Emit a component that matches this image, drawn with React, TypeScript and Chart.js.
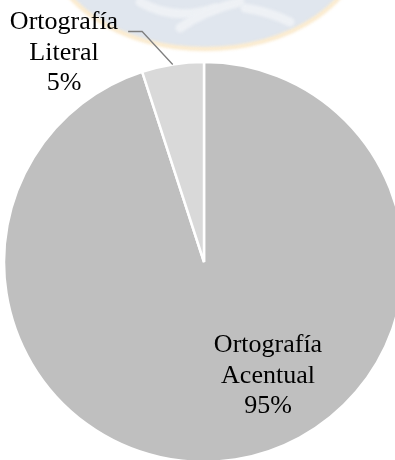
import React, { useEffect, useRef } from "react";
import { Chart, registerables } from "chart.js";

Chart.register(...registerables);

const categories: string[] = ["Ortografía Acentual", "Ortografía Literal"];
const labelLines: string[][] = [["Ortografía", "Acentual"], ["Ortografía", "Literal"]];
const values: number[] = [95, 5];
const colors: string[] = ["#BFBFBF", "#D9D9D9"];

const FONT = '26px "Liberation Serif", "Times New Roman", serif';

const watermarkPlugin = {
  id: "watermark",
  beforeDraw(chart: any) {
    const ctx = chart.ctx;
    ctx.save();
    ctx.filter = "blur(1.5px)";
    ctx.beginPath();
    ctx.ellipse(205, -60, 158, 109, 0, 0, Math.PI * 2);
    ctx.fillStyle = "#E0E6EE";
    ctx.fill();
    ctx.lineWidth = 4;
    ctx.strokeStyle = "#FDEBCB";
    ctx.stroke();
    ctx.lineCap = "round";
    ctx.strokeStyle = "#EEF1F5";
    ctx.lineWidth = 9;
    ctx.beginPath();
    ctx.moveTo(140, 2);
    ctx.quadraticCurveTo(175, 22, 215, 8);
    ctx.stroke();
    ctx.beginPath();
    ctx.moveTo(180, 28);
    ctx.quadraticCurveTo(205, 10, 240, 2);
    ctx.stroke();
    ctx.beginPath();
    ctx.moveTo(245, 8);
    ctx.quadraticCurveTo(270, 12, 290, 22);
    ctx.stroke();
    ctx.restore();
  },
};

const labelPlugin = {
  id: "sliceLabels",
  afterDraw(chart: any) {
    const ctx = chart.ctx;
    const meta = chart.getDatasetMeta(0);
    const total = values.reduce((a, b) => a + b, 0);
    ctx.save();
    ctx.font = FONT;
    ctx.fillStyle = "#000000";
    ctx.textAlign = "center";
    ctx.textBaseline = "alphabetic";
    meta.data.forEach((arc: any, i: number) => {
      const { x, y, outerRadius, startAngle, endAngle } = arc.getProps(
        ["x", "y", "outerRadius", "startAngle", "endAngle"],
        true
      );
      const pct = Math.round((values[i] / total) * 100) + "%";
      const lines = [...labelLines[i], pct];
      if (i === 0) {
        const cx = x + 64;
        const by = y + 90;
        lines.forEach((t, k) => ctx.fillText(t, cx, by + k * 30.5));
      } else {
        const cx = x - 140;
        const by = y - 233;
        lines.forEach((t, k) => ctx.fillText(t, cx, by + k * 30.5));
        const mid = (startAngle + endAngle) / 2;
        const ex = x + Math.cos(mid) * outerRadius;
        const ey = y + Math.sin(mid) * outerRadius;
        const w = ctx.measureText(lines[0]).width;
        const hx = cx + w / 2 + 10;
        ctx.beginPath();
        ctx.strokeStyle = "#7F7F7F";
        ctx.lineWidth = 1.3;
        ctx.moveTo(hx, by + 2.5);
        ctx.lineTo(hx + 14, by + 2.5);
        ctx.lineTo(ex, ey);
        ctx.stroke();
      }
    });
    ctx.restore();
  },
};

export default function App() {
  const ref = useRef<HTMLCanvasElement | null>(null);
  useEffect(() => {
    if (!ref.current) return;
    const chart = new Chart(ref.current, {
      type: "pie",
      data: {
        labels: categories,
        datasets: [
          {
            data: values,
            backgroundColor: colors,
            borderColor: "#FFFFFF",
            borderWidth: 2.5,
            radius: 200,
          } as any,
        ],
      },
      options: {
        responsive: false,
        maintainAspectRatio: false,
        animation: false,
        layout: { padding: { left: 4, right: 6, top: 62, bottom: 8 } },
        plugins: {
          legend: { display: false },
          tooltip: { enabled: false },
        },
      },
      plugins: [watermarkPlugin, labelPlugin],
    });
    return () => chart.destroy();
  }, []);
  return (
    <div
      style={{
        position: "fixed",
        left: 0,
        top: 0,
        width: 395,
        height: 460,
        overflow: "hidden",
        background: "#FFFFFF",
      }}
    >
      <canvas ref={ref} width={410} height={470} style={{ width: 410, height: 470, display: "block" }} />
    </div>
  );
}
